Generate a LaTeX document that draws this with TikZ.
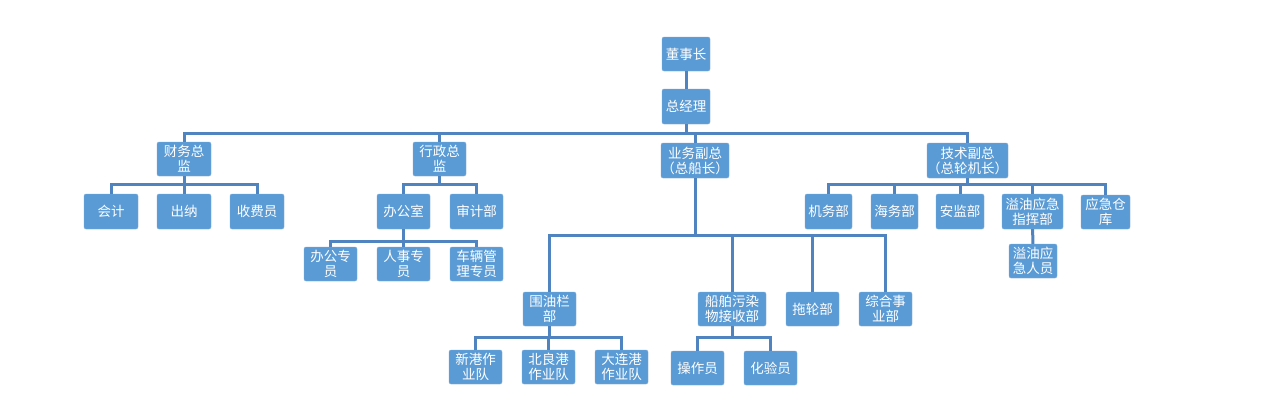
\documentclass[tikz,border=0pt]{standalone}
\usepackage{fontspec}
\setmainfont{Noto Sans CJK SC}
\definecolor{boxblue}{RGB}{91,155,213}
\definecolor{lineblue}{RGB}{79,132,192}
\begin{document}
\begin{tikzpicture}[x=1pt,y=-1pt,
  box/.style={rectangle, rounded corners=2pt, fill=boxblue, draw=boxblue!80!white, line width=0.4pt,
    text=white, inner sep=0pt, align=center, minimum height=34pt,
    font=\fontsize{13.5}{15}\selectfont},
  conn/.style={draw=lineblue, line width=3pt}]
\useasboundingbox[fill=white] (0,0) rectangle (1261,413);
% level 0-1
\node[box, minimum width=48pt] (ch) at (686,54) {董事长};
\node[box, minimum width=48pt, minimum height=35pt] (gm) at (686,106.5) {总经理};
% level 2
\node[box, minimum width=54pt] (cw) at (184,159) {财务总\\监};
\node[box, minimum width=53pt] (xz) at (439.5,159) {行政总\\监};
\node[box, minimum width=68pt, minimum height=35pt] (yw) at (695,160.5) {业务副总\\（总船长）};
\node[box, minimum width=77pt, minimum height=35pt] (js) at (967.5,160.5) {技术副总\\（总轮机长）};
% finance
\node[box, minimum width=54pt, minimum height=35pt] (kj) at (111,211.5) {会计};
\node[box, minimum width=54pt, minimum height=35pt] (cn) at (184,211.5) {出纳};
\node[box, minimum width=54pt, minimum height=35pt] (sf) at (257,211.5) {收费员};
% admin
\node[box, minimum width=53pt, minimum height=35pt] (bgs) at (403.5,211.5) {办公室};
\node[box, minimum width=53pt, minimum height=35pt] (sj) at (476.5,211.5) {审计部};
\node[box, minimum width=53pt] (bgzy) at (330.5,264) {办公专\\员};
\node[box, minimum width=53pt] (rszy) at (403.5,264) {人事专\\员};
\node[box, minimum width=53pt] (clzy) at (476.5,264) {车辆管\\理专员};
% technical
\node[box, minimum width=47pt, minimum height=35pt] (jw) at (828.5,211.5) {机务部};
\node[box, minimum width=47pt, minimum height=35pt] (hw) at (894.5,211.5) {海务部};
\node[box, minimum width=48pt, minimum height=35pt] (aj) at (960,211.5) {安监部};
\node[box, minimum width=61pt, minimum height=35pt] (yy) at (1032.5,211.5) {溢油应急\\指挥部};
\node[box, minimum width=49pt] (ck) at (1105.5,212) {应急仓\\库};
\node[box, minimum width=48pt] (yyry) at (1033,261) {溢油应\\急人员};
% operations
\node[box, minimum width=53pt] (wyl) at (549.5,309) {围油栏\\部};
\node[box, minimum width=68pt] (cb) at (732,309) {船舶污染\\物接收部};
\node[box, minimum width=53pt] (tl) at (812.5,309) {拖轮部};
\node[box, minimum width=53pt] (zh) at (885.5,309) {综合事\\业部};
\node[box, minimum width=53pt] (xg) at (475.5,367) {新港作\\业队};
\node[box, minimum width=53pt] (bl) at (548.5,367) {北良港\\作业队};
\node[box, minimum width=53pt] (dl) at (621.5,367) {大连港\\作业队};
\node[box, minimum width=53pt] (cz) at (697.5,368) {操作员};
\node[box, minimum width=53pt] (hy) at (770.5,368) {化验员};
% bus levels
\coordinate (b0) at (0,133);
\coordinate (b1) at (0,184);
\coordinate (b2) at (0,241);
\coordinate (b3) at (0,235);
\coordinate (b4) at (0,337);
% connectors
\draw[conn] (ch) -- (gm);
\foreach \c in {cw,xz,yw,js} \draw[conn] (gm.south) -- (gm.south |- b0) -| (\c.north);
\foreach \c in {kj,cn,sf} \draw[conn] (cw.south) -- (cw.south |- b1) -| (\c.north);
\foreach \c in {bgs,sj} \draw[conn] (xz.south) -- (xz.south |- b1) -| (\c.north);
\foreach \c in {bgzy,rszy,clzy} \draw[conn] (bgs.south) -- (bgs.south |- b2) -| (\c.north);
\foreach \c in {jw,hw,aj,yy,ck} \draw[conn] (js.south) -- (js.south |- b1) -| (\c.north);
\draw[conn] (yy) -- (yyry);
\foreach \c in {wyl,cb,tl,zh} \draw[conn] (yw.south) -- (yw.south |- b3) -| (\c.north);
\foreach \c in {xg,bl,dl} \draw[conn] (wyl.south) -- (wyl.south |- b4) -| (\c.north);
\foreach \c in {cz,hy} \draw[conn] (cb.south) -- (cb.south |- b4) -| (\c.north);
\end{tikzpicture}
\end{document}
